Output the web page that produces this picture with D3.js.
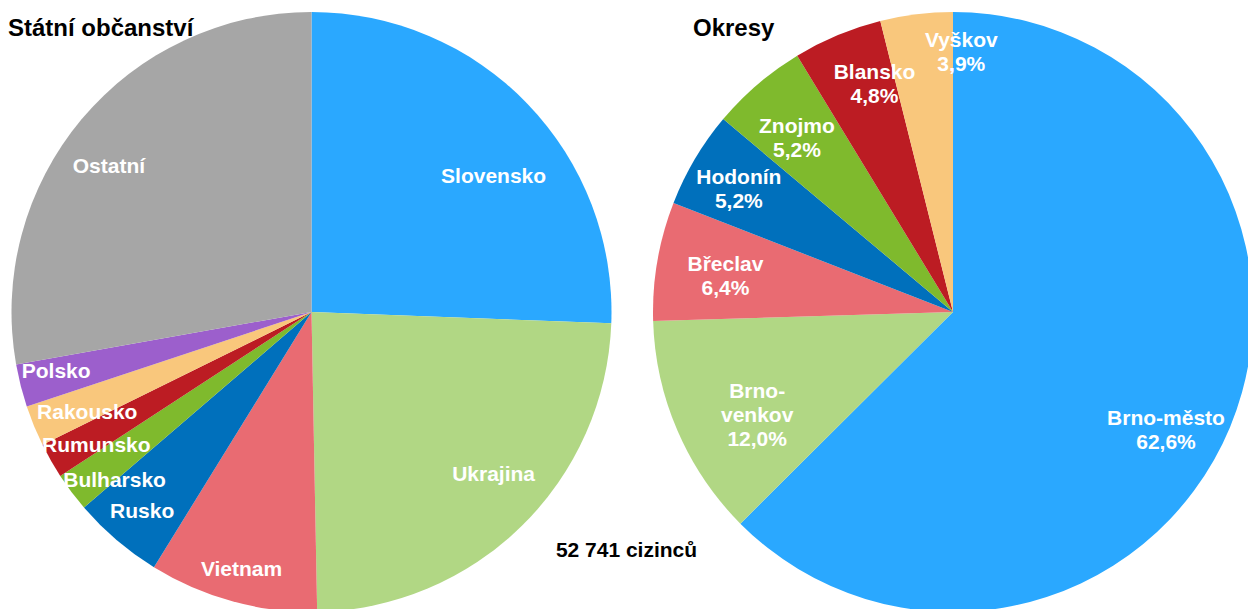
<!DOCTYPE html>
<html>
<head>
<meta charset="utf-8">
<script src="https://cdn.jsdelivr.net/npm/d3@7"></script>
<style>
  body { margin: 0; background: #fff; }
  text { font-family: "Liberation Sans", Arial, sans-serif; font-weight: bold; }
</style>
</head>
<body>
<svg id="chart" width="1248" height="609"></svg>
<script>
// státní občanství (podíl v %)
var countries = ["Slovensko", "Ukrajina", "Vietnam", "Rusko", "Bulharsko", "Rumunsko", "Rakousko", "Polsko", "Ostatní"];
var countryShare = [25.6, 24.1, 9.1, 4.9, 2.1, 1.9, 2.2, 2.3, 27.8];
var countryColors = ["#2aa8ff", "#b1d784", "#e96b72", "#0070bc", "#7fba2d", "#bc1c23", "#f9c77c", "#9c5fcc", "#a6a6a6"];

// okresy (podíl v %)
var districts = ["Brno-město", "Brno-venkov", "Břeclav", "Hodonín", "Znojmo", "Blansko", "Vyškov"];
var districtShare = [62.6, 12.0, 6.4, 5.2, 5.2, 4.8, 3.9];
var districtColors = ["#2aa8ff", "#b1d784", "#e96b72", "#0070bc", "#7fba2d", "#bc1c23", "#f9c77c"];
var districtLines = [["Brno-město"], ["Brno-", "venkov"], ["Břeclav"], ["Hodonín"], ["Znojmo"], ["Blansko"], ["Vyškov"]];

var total = "52 741 cizinců";

// posun popisků od středu výseče (ruční doladění)
var nudge = {
  "Slovensko": [2, 37], "Ukrajina": [7, -17], "Vietnam": [-4, 16], "Rusko": [-7, 9],
  "Bulharsko": [3, 18], "Rumunsko": [2, 9], "Rakousko": [7, 5], "Polsko": [-13, -3], "Ostatní": [-11, 14],
  "Brno-město": [-4, 27], "Brno-venkov": [20, 10], "Břeclav": [4, 4], "Hodonín": [-12, -4],
  "Znojmo": [-3, 4], "Blansko": [12, -11], "Vyškov": [37, -27]
};

var svg = d3.select("#chart");
var radius = 300;

var pie = d3.pie().sort(null).value(function(d) { return d.value; });
var arc = d3.arc().innerRadius(0).outerRadius(radius);

var fmt = function(v) { return d3.format(".1f")(v).replace(".", ",") + "%"; };
var place = function(lblArc) {
  return function(d) {
    var c = lblArc.centroid(d), n = nudge[d.data.name] || [0, 0];
    return "translate(" + (c[0] + n[0]) + "," + (c[1] + n[1]) + ")";
  };
};

// levý koláč
var left = svg.append("g").attr("transform", "translate(311.5,312)");
var leftData = countries.map(function(c, i) { return {name: c, value: countryShare[i], color: countryColors[i]}; });
var leftLabel = d3.arc().innerRadius(250).outerRadius(250);

left.selectAll("path")
  .data(pie(leftData))
  .enter().append("path")
    .attr("d", arc)
    .attr("fill", function(d) { return d.data.color; });

left.selectAll(".lbl")
  .data(pie(leftData))
  .enter().append("text")
    .attr("class", "lbl")
    .attr("transform", place(leftLabel))
    .attr("text-anchor", "middle")
    .attr("dy", "0.35em")
    .attr("fill", "#fff")
    .style("font-size", "21px")
    .text(function(d) { return d.data.name; });

// pravý koláč
var right = svg.append("g").attr("transform", "translate(953,312)");
var rightData = districts.map(function(c, i) {
  return {name: c, value: districtShare[i], color: districtColors[i], lines: districtLines[i]};
});
var rightLabel = d3.arc().innerRadius(235).outerRadius(235);

right.selectAll("path")
  .data(pie(rightData))
  .enter().append("path")
    .attr("d", arc)
    .attr("fill", function(d) { return d.data.color; });

var rl = right.selectAll(".lbl")
  .data(pie(rightData))
  .enter().append("text")
    .attr("class", "lbl")
    .attr("transform", place(rightLabel))
    .attr("text-anchor", "middle")
    .attr("fill", "#fff")
    .style("font-size", "21px");

rl.each(function(d) {
  var lines = d.data.lines.concat([fmt(d.data.value)]);
  var t = d3.select(this);
  var y0 = -(lines.length - 1) * 24 / 2;
  lines.forEach(function(s, i) {
    t.append("tspan").attr("x", 0).attr("y", y0 + i * 24).attr("dy", "0.35em").text(s);
  });
});

// nadpisy
svg.append("text").attr("x", 8).attr("y", 36).style("font-size", "24px").text("Státní občanství");
svg.append("text").attr("x", 693).attr("y", 36).style("font-size", "24px").text("Okresy");
svg.append("text").attr("x", 626.5).attr("y", 557).attr("text-anchor", "middle").style("font-size", "21px").text(total);
</script>
</body>
</html>
